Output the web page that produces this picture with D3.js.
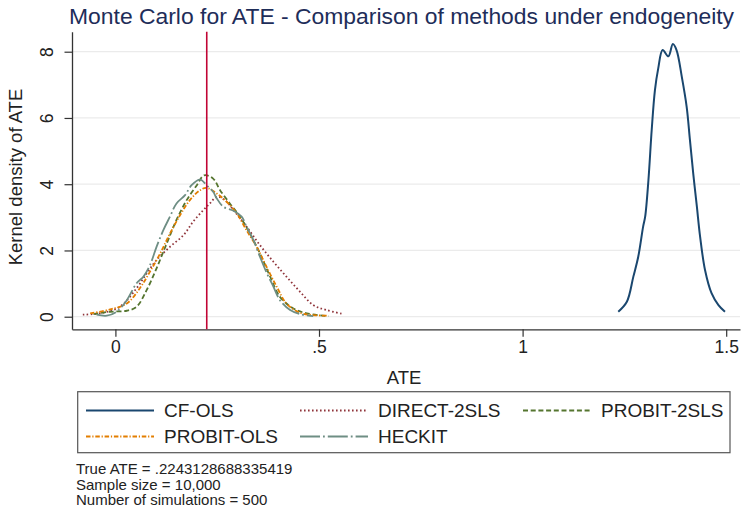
<!DOCTYPE html>
<html><head><meta charset="utf-8">
<script src="https://cdn.jsdelivr.net/npm/d3@7"></script>
<style>
html,body{margin:0;padding:0;background:#fff;}
text{font-family:Arial,"Liberation Sans",Helvetica,sans-serif;}
</style></head>
<body><svg id="c" width="741" height="512"></svg>
<script>
// ---- data ----
const seriesNames = ["CF-OLS","DIRECT-2SLS","PROBIT-2SLS","PROBIT-OLS","HECKIT"];
const seriesColors = ["#1a476f","#90353b","#55752f","#e37e00","#6e8e84"];
const cfolsX = [1.235,1.256,1.272,1.284,1.296,1.301,1.309,1.317,1.325,1.333,1.344,1.358,1.369,1.378,1.391,1.403,1.411,1.419,1.428,1.436,1.448,1.464,1.481,1.497];
const cfolsY = [0.15,0.45,1.21,1.81,2.72,3.02,4.12,5.63,6.84,7.49,8.05,7.86,8.23,8.05,7.24,6.33,5.33,4.33,3.32,2.41,1.41,0.71,0.35,0.15];
const direct2slsX = [-0.080,-0.030,0.011,0.052,0.077,0.101,0.134,0.167,0.191,0.216,0.232,0.249,0.269,0.290,0.322,0.355,0.388,0.420,0.453,0.486,0.519,0.560];
const direct2slsY = [0.06,0.12,0.30,0.86,1.31,1.71,2.11,2.46,2.87,3.22,3.42,3.62,3.52,3.22,2.72,2.16,1.66,1.21,0.76,0.35,0.20,0.08];
const probit2slsX = [-0.054,-0.013,0.028,0.052,0.077,0.101,0.126,0.150,0.175,0.200,0.218,0.240,0.257,0.281,0.306,0.330,0.355,0.380,0.404,0.437,0.470,0.523];
const probit2slsY = [0.08,0.15,0.18,0.30,0.81,1.46,2.21,2.92,3.52,3.97,4.27,4.17,3.82,3.42,3.02,2.52,1.91,1.21,0.60,0.25,0.10,0.02];
const probitolsX = [-0.062,-0.013,0.028,0.060,0.085,0.110,0.134,0.159,0.183,0.208,0.224,0.249,0.273,0.298,0.322,0.347,0.371,0.396,0.420,0.453,0.486,0.519];
const probitolsY = [0.10,0.22,0.40,0.86,1.36,1.91,2.51,3.07,3.52,3.82,3.89,3.72,3.47,3.12,2.61,2.11,1.51,0.91,0.40,0.12,0.05,0.03];
const heckitX = [-0.046,-0.021,0.003,0.028,0.052,0.069,0.085,0.101,0.118,0.134,0.150,0.171,0.187,0.208,0.224,0.240,0.249,0.265,0.290,0.310,0.322,0.339,0.355,0.372,0.388,0.404,0.429,0.453,0.486];
const heckitY = [0.06,0.03,0.15,0.50,1.01,1.21,1.56,2.11,2.62,3.02,3.42,3.67,3.97,4.14,3.97,3.77,3.57,3.32,3.20,3.02,2.72,2.31,1.81,1.31,0.91,0.50,0.20,0.08,0.02];
const trueATE = 0.2243128688335419;
const xTickValues = [0,0.5,1,1.5];
const xTickLabels = ["0",".5","1","1.5"];
const yTickValues = [0,2,4,6,8];
const yTickLabels = ["0","2","4","6","8"];
const titleText = "Monte Carlo for ATE - Comparison of methods under endogeneity";
const xTitle = "ATE";
const yTitle = "Kernel density of ATE";
const noteLines = ["True ATE = .2243128688335419","Sample size = 10,000","Number of simulations = 500"];

// ---- chart ----
const svg = d3.select("#c");
const x = d3.scaleLinear().domain([-0.1066,1.5339]).range([72,740]);
const y = d3.scaleLinear().domain([-0.380,8.604]).range([329.3,31.7]);

const series = [
  {x:cfolsX,y:cfolsY,dash:null,w:2},
  {x:direct2slsX,y:direct2slsY,dash:"1.6,2.4",w:1.8},
  {x:probit2slsX,y:probit2slsY,dash:"5,2.7",w:1.8},
  {x:probitolsX,y:probitolsY,dash:"4.5,1.8,1.2,1.8",w:1.8},
  {x:heckitX,y:heckitY,dash:"20,3,1.8,3",w:1.8}
];

// gridlines
svg.append("g").selectAll("line").data(yTickValues).join("line")
  .attr("x1",72).attr("x2",740).attr("y1",d=>y(d)).attr("y2",d=>y(d))
  .attr("stroke","#ebebeb").attr("stroke-width",1.3);

// axes
const xAxis = d3.axisBottom(x).tickValues(xTickValues).tickFormat((d,i)=>xTickLabels[i]).tickSize(7.5).tickSizeOuter(0).tickPadding(4);
const gx = svg.append("g").attr("transform","translate(0,329.3)").call(xAxis);
gx.select(".domain").attr("stroke","#333").attr("stroke-width",1.3);
gx.selectAll(".tick line").attr("stroke","#333").attr("stroke-width",1.2);
gx.selectAll(".tick text").attr("font-size","17.5px").attr("fill","#222").attr("font-family",'Arial,"Liberation Sans",sans-serif');

const yAxis = d3.axisLeft(y).tickValues(yTickValues).tickFormat((d,i)=>yTickLabels[i]).tickSize(7.5).tickSizeOuter(0).tickPadding(4);
const gy = svg.append("g").attr("transform","translate(72,0)").call(yAxis);
gy.select(".domain").attr("stroke","#333").attr("stroke-width",1.3);
gy.selectAll(".tick line").attr("stroke","#333").attr("stroke-width",1.2);
gy.selectAll(".tick text").attr("font-size","17.5px").attr("fill","#222")
  .attr("font-family",'Arial,"Liberation Sans",sans-serif')
  .attr("text-anchor","middle").attr("dy",null).attr("x",null)
  .attr("transform","translate(-25,0) rotate(-90)").attr("dominant-baseline","central");

// curves
const line = d3.line().x(d=>x(d[0])).y(d=>y(d[1])).curve(d3.curveCatmullRom.alpha(0.5));
series.forEach((s,i)=>{
  const pts = s.x.map((v,j)=>[v,s.y[j]]);
  svg.append("path").datum(pts).attr("d",line).attr("fill","none")
    .attr("stroke",seriesColors[i]).attr("stroke-width",s.w)
    .attr("stroke-dasharray",s.dash).attr("stroke-linejoin","round");
});

// true ATE line
svg.append("line").attr("x1",x(trueATE)).attr("x2",x(trueATE)).attr("y1",y(8.604)).attr("y2",y(-0.380))
  .attr("stroke","#c10534").attr("stroke-width",1.6);

// titles
svg.append("text").attr("x",69).attr("y",23.5).attr("font-size","22.9px").attr("fill","#1e2d59").text(titleText);
svg.append("text").attr("x",404).attr("y",384).attr("text-anchor","middle").attr("font-size","18.5px").attr("fill","#222").text(xTitle);
svg.append("text").attr("transform","translate(22,177) rotate(-90)").attr("text-anchor","middle").attr("font-size","18.5px").attr("fill","#222").text(yTitle);

// legend
svg.append("rect").attr("x",77.7).attr("y",391.7).attr("width",652.3).attr("height",61).attr("fill","#fff")
  .attr("stroke","#555").attr("stroke-width",1.2);
const legPos = [[86,410.5],[300,410.5],[523,410.5],[86,436.5],[300,436.5]];
series.forEach((s,i)=>{
  const [lx,ly] = legPos[i];
  svg.append("line").attr("x1",lx).attr("x2",lx+68).attr("y1",ly).attr("y2",ly)
    .attr("stroke",seriesColors[i]).attr("stroke-width",s.w).attr("stroke-dasharray",s.dash);
  svg.append("text").attr("x",lx+78).attr("y",ly+6.8).attr("font-size","19px").attr("fill","#222").text(seriesNames[i]);
});

// notes
const noteY = [474.3,489.6,505];
noteLines.forEach((t,i)=>{
  svg.append("text").attr("x",76).attr("y",noteY[i]).attr("font-size","15px").attr("fill","#222").text(t);
});
</script></body></html>
